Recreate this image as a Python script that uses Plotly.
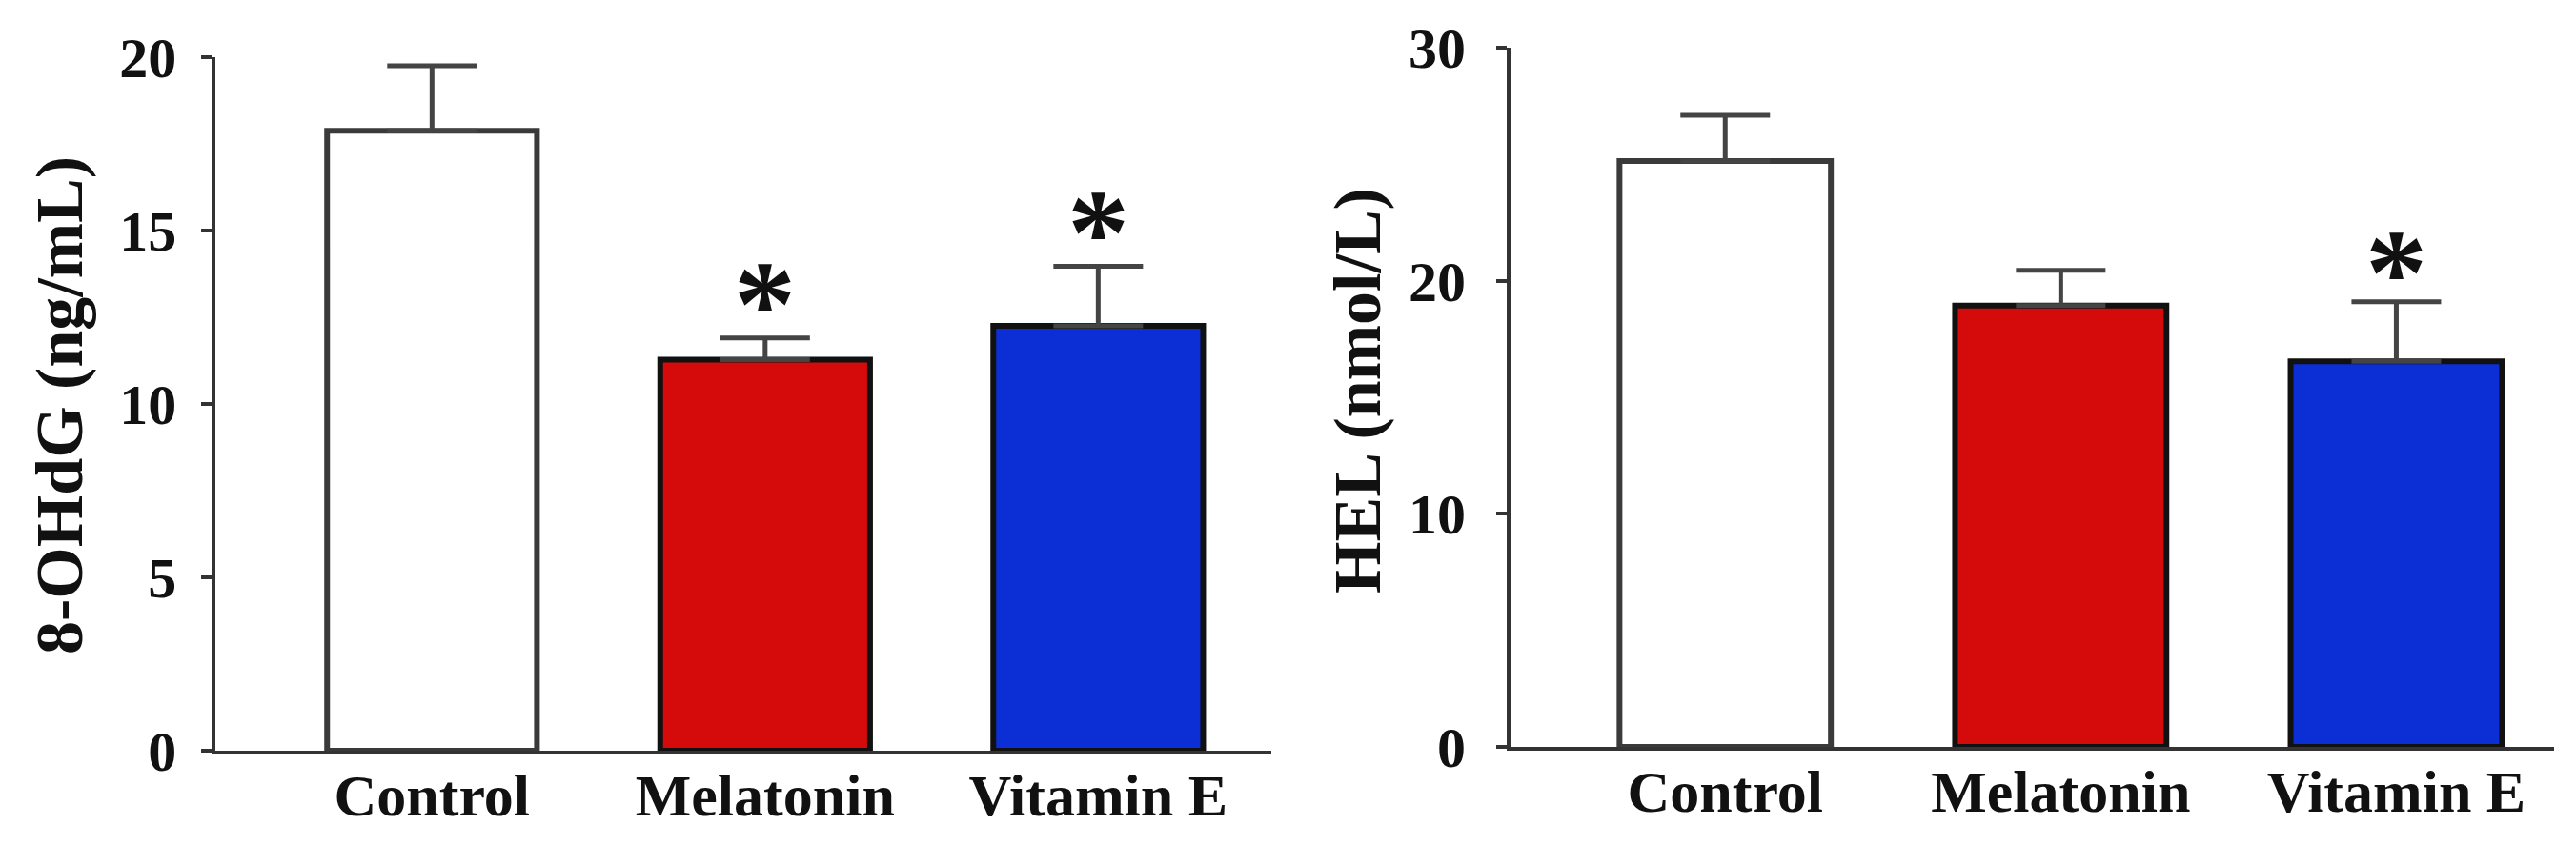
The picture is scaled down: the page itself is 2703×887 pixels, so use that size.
import plotly.graph_objects as go

categories = ["Control", "Melatonin", "Vitamin E"]
ohdg_values = [17.88, 11.28, 12.25]
ohdg_errors = [1.87, 0.62, 1.72]
hel_values = [25.14, 18.94, 16.54]
hel_errors = [1.96, 1.51, 2.56]
bar_colors = ["#FFFFFF", "#D50A0A", "#0B2FD5"]
outline_colors = ["#3A3A3A", "#111111", "#111111"]
ohdg_stars = ["", "*", "*"]
hel_stars = ["", "", "*"]
ohdg_star_y = [0, 13.05, 15.1]
hel_star_y = [0, 0, 20.6]
ohdg_ticks = [0, 5, 10, 15, 20]
hel_ticks = [0, 10, 20, 30]

FONT = "Liberation Serif"
fig = go.Figure()

def add_panel(vals, errs, xa, ya):
    fig.add_trace(go.Bar(
        x=categories, y=vals, width=0.63,
        marker=dict(color=bar_colors, line=dict(color=outline_colors, width=6)),
        error_y=dict(type="data", symmetric=False, array=errs,
                     arrayminus=[0] * len(errs), color="#444444",
                     thickness=5, width=47),
        xaxis=xa, yaxis=ya, showlegend=False,
    ))

add_panel(ohdg_values, ohdg_errors, "x", "y")
add_panel(hel_values, hel_errors, "x2", "y2")

tickfont = dict(family=FONT, size=60, color="#111111", weight="bold")
catfont = dict(family=FONT, size=62, color="#111111", weight="bold")

common_x = dict(showline=True, linecolor="#333333", linewidth=4, ticks="",
                showgrid=False, zeroline=False, tickfont=catfont,
                automargin=False, ticklabelstandoff=-10)
common_y = dict(showline=True, linecolor="#333333", linewidth=4, ticks="outside",
                ticklen=11, tickwidth=4, tickcolor="#333333", showgrid=False,
                zeroline=False, tickfont=tickfont, automargin=False)

fig.update_layout(
    width=2703, height=887,
    margin=dict(l=0, r=0, t=0, b=0),
    paper_bgcolor="white", plot_bgcolor="rgba(0,0,0,0)",
    xaxis=dict(domain=[0.0807, 0.4906], range=[-0.65, 2.52], anchor="y", **common_x),
    yaxis=dict(domain=[0.1206, 0.9414], range=[0, 20], tickvals=ohdg_ticks,
               anchor="x", ticklabelstandoff=14, **common_y),
    xaxis2=dict(domain=[0.5834, 0.9885], range=[-0.64, 2.47], anchor="y2", **common_x),
    yaxis2=dict(domain=[0.1251, 0.9526], range=[0, 30], tickvals=hel_ticks,
                anchor="x2", ticklabelstandoff=20, **common_y),
)

starfont = dict(family=FONT, size=130, color="#111111", weight="bold")
for cat, s, yv in zip(categories, ohdg_stars, ohdg_star_y):
    if s:
        fig.add_annotation(x=cat, y=yv, xref="x", yref="y", text=s, showarrow=False,
                           yshift=-6, font=starfont)
for cat, s, yv in zip(categories, hel_stars, hel_star_y):
    if s:
        fig.add_annotation(x=cat, y=yv, xref="x2", yref="y2", text=s, showarrow=False,
                           yshift=-6, font=starfont)

titlefont = dict(family=FONT, size=70, color="#111111", weight="bold")
fig.add_annotation(x=54 / 2703, y=1 - 418 / 887, xref="paper", yref="paper",
                   xanchor="center", yanchor="middle",
                   text="8-OHdG (ng/mL)", textangle=-90, showarrow=False, font=titlefont)
fig.add_annotation(x=1416 / 2703, y=1 - 402 / 887, xref="paper", yref="paper",
                   xanchor="center", yanchor="middle",
                   text="HEL (nmol/L)", textangle=-90, showarrow=False, font=titlefont)

fig.write_html("out.html")
